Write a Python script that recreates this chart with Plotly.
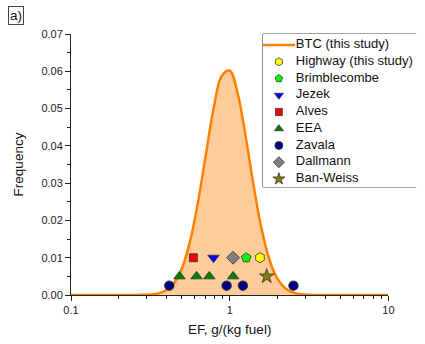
import plotly.graph_objects as go

# BTC (this study) distribution curve
btc_ef = [0.1, 0.251, 0.282, 0.316, 0.355, 0.398, 0.447, 0.501, 0.562, 0.631, 0.708,
          0.794, 0.891, 1.0, 1.122, 1.259, 1.413, 1.585, 1.778, 1.995, 2.239,
          2.512, 2.818, 3.162, 3.548, 10.0]
btc_freq = [0.0, 0.000008, 0.000034, 0.000129, 0.000431, 0.00126, 0.00324, 0.00729,
            0.01439, 0.02491, 0.03782, 0.05035, 0.05879, 0.06019, 0.05405, 0.04257,
            0.02939, 0.01781, 0.00946, 0.0044, 0.0018, 0.000644, 0.000202, 0.000056,
            0.0000135, 0.0]

# literature points
highway_x = [1.55];  highway_y = [0.010]
brim_x = [1.27];     brim_y = [0.010]
jezek_x = [0.79];    jezek_y = [0.010]
alves_x = [0.59];    alves_y = [0.010]
eea_x = [0.482, 0.618, 0.743, 1.05]; eea_y = [0.005, 0.005, 0.005, 0.005]
zavala_x = [0.416, 0.956, 1.21, 2.52]; zavala_y = [0.0025, 0.0025, 0.0025, 0.0025]
dall_x = [1.05];     dall_y = [0.010]
ban_x = [1.71];      ban_y = [0.005]

y_ticks = [0.00, 0.01, 0.02, 0.03, 0.04, 0.05, 0.06, 0.07]
x_ticks = [0.1, 1, 10]
x_tick_text = ["0.1", "1", "10"]

legend_labels = ["BTC (this study)", "Highway (this study)", "Brimblecombe", "Jezek",
                 "Alves", "EEA", "Zavala", "Dallmann", "Ban-Weiss"]

FONT = "Liberation Sans, Arial, sans-serif"
ORANGE = "#FF8000"
outline = dict(color="#333333", width=0.8)

styles = [  # symbol, colour, size on plot, size in legend
    ("hexagon", "#FFFF00", 10, 8),
    ("pentagon", "#00FF00", 10, 8),
    ("triangle-down", "#0000FF", 10, 8),
    ("square", "#FF0000", 8, 7),
    ("triangle-up", "#008000", 10, 8),
    ("circle", "#000080", 9.5, 8),
    ("diamond", "#808080", 10, 8.5),
    ("star", "#808000", 11, 9),
]
series_x = [highway_x, brim_x, jezek_x, alves_x, eea_x, zavala_x, dall_x, ban_x]
series_y = [highway_y, brim_y, jezek_y, alves_y, eea_y, zavala_y, dall_y, ban_y]

fig = go.Figure()
fig.add_trace(go.Scatter(
    x=btc_ef, y=btc_freq, mode="lines", name=legend_labels[0], showlegend=False,
    line=dict(color=ORANGE, width=2.5, shape="spline", smoothing=1.0),
    fill="tozeroy", fillcolor="rgb(254,204,154)"))

for name, xs, ys, (sym, col, sz, _) in zip(legend_labels[1:], series_x, series_y, styles):
    fig.add_trace(go.Scatter(
        x=xs, y=ys, mode="markers", name=name, showlegend=False,
        marker=dict(symbol=sym, color=col, size=sz, line=outline)))

# ---- legend drawn on an auxiliary, hidden axis pair ----
item_idx = list(range(len(legend_labels)))
fig.add_trace(go.Scatter(x=[0.0, 0.21], y=[0, 0], mode="lines", xaxis="x2", yaxis="y2",
                         line=dict(color=ORANGE, width=2.5), showlegend=False,
                         hoverinfo="skip"))
for i, (sym, col, _, lsz) in zip(item_idx[1:], styles):
    fig.add_trace(go.Scatter(x=[0.105], y=[i], mode="markers", xaxis="x2", yaxis="y2",
                             marker=dict(symbol=sym, color=col, size=lsz, line=outline),
                             showlegend=False, hoverinfo="skip", cliponaxis=False))
fig.add_trace(go.Scatter(x=[0.215] * len(legend_labels), y=item_idx, mode="text",
                         text=legend_labels, textposition="middle right",
                         textfont=dict(family=FONT, size=13, color="#111111"),
                         cliponaxis=False,
                         xaxis="x2", yaxis="y2", showlegend=False, hoverinfo="skip"))

fig.update_layout(
    width=425, height=344,
    margin=dict(l=71, r=2, t=34, b=49),
    paper_bgcolor="white", plot_bgcolor="white",
    font=dict(family=FONT, size=11, color="#222222"),
    showlegend=False,
    xaxis=dict(type="log", range=[-1, 1], domain=[0, 0.9176],
               tickvals=x_ticks, ticktext=x_tick_text,
               showline=True, linecolor="#222222", linewidth=1, ticks="outside",
               ticklen=5, tickcolor="#222222", showgrid=False, zeroline=False,
               minor=dict(ticks="outside", ticklen=3, tickcolor="#222222",
                          tickvals=[0.2, 0.3, 0.4, 0.5, 0.6, 0.7, 0.8, 0.9,
                                    2, 3, 4, 5, 6, 7, 8, 9], showgrid=False),
               title=dict(text="EF, g/(kg fuel)", font=dict(size=13.5, color="#111111"),
                          standoff=9),
               tickfont=dict(size=11)),
    yaxis=dict(range=[0, 0.07], tickvals=y_ticks, tickformat=".2f",
               showline=True, linecolor="#222222", linewidth=1, ticks="outside",
               ticklen=5, tickcolor="#222222", showgrid=False, zeroline=False,
               minor=dict(ticks="outside", ticklen=3, tickcolor="#222222",
                          dtick=0.005, showgrid=False),
               title=dict(text="Frequency", font=dict(size=13.5, color="#111111"),
                          standoff=14),
               tickfont=dict(size=11)),
    xaxis2=dict(domain=[0.554, 1.0], range=[0, 1], anchor="y2", visible=False,
                fixedrange=True),
    yaxis2=dict(domain=[0.4138, 1.0], range=[8.48, -0.657], anchor="x2", visible=False,
                fixedrange=True),
    shapes=[dict(type="rect", xref="x2 domain", yref="y2 domain", x0=0, x1=0.995, y0=0, y1=1,
                 line=dict(color="#444444", width=1), fillcolor="white", layer="below")],
    annotations=[dict(text="a)", x=-0.158, y=1.07, xref="paper", yref="paper",
                      xanchor="center", yanchor="middle", showarrow=False,
                      font=dict(size=13.5, color="#111111"),
                      bordercolor="#444444", borderwidth=1, borderpad=1)],
)

fig.write_html("out.html")
